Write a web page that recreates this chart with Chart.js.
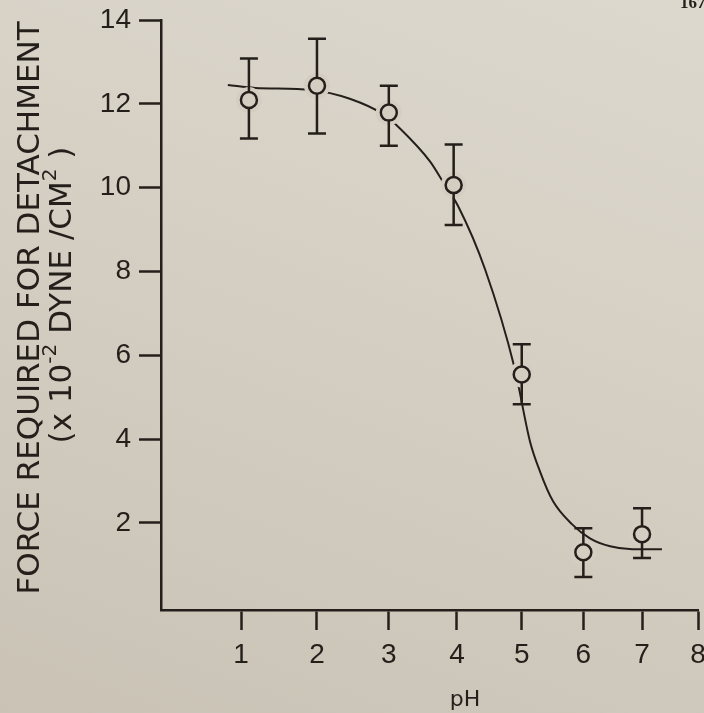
<!DOCTYPE html>
<html>
<head>
<meta charset="utf-8">
<script src="https://cdn.jsdelivr.net/npm/chart.js@4/dist/chart.umd.min.js"></script>
<style>
  html, body { margin: 0; padding: 0; }
  body {
    width: 704px; height: 713px; overflow: hidden;
    background: linear-gradient(200deg, #ddd8ce 0%, #d4cec2 50%, #c9c2b5 100%);
  }
  canvas { display: block; }
</style>
</head>
<body>
<canvas id="chart" width="704" height="713"></canvas>
<script>
// pH vs detachment force - scanned figure
const phTicks = [1, 2, 3, 4, 5, 6, 7, 8];
const forceTicks = [2, 4, 6, 8, 10, 12, 14];

// measured points with error bars
const pointPh = [1.1, 2, 3, 3.95, 5, 6, 7];
const pointForce = [12.09, 12.43, 11.79, 10.06, 5.54, 1.30, 1.73];
const errTop = [13.08, 13.55, 12.43, 11.03, 6.26, 1.87, 2.35];
const errBottom = [11.17, 11.29, 11.0, 9.11, 4.83, 0.71, 1.16];

// hand drawn fitted curve
const curvePh = [0.83, 1.18, 1.92, 2.45, 2.93, 3.16, 3.6, 3.79, 4.02, 4.43, 4.89, 5.13, 5.29, 5.5, 5.81, 6.11, 6.45, 6.83, 7.35];
const curveForce = [12.45, 12.38, 12.33, 12.12, 11.74, 11.41, 10.62, 10.14, 9.55, 8.04, 5.68, 3.95, 3.23, 2.52, 1.97, 1.63, 1.44, 1.37, 1.37];

// second title line as [text, superscript?] pieces
const yTitle = 'FORCE REQUIRED FOR DETACHMENT';
const yUnits = [['(x 10', false], ['-2', true], [' DYNE /CM', false], ['2', true], [' )', false]];
const xTitle = 'pH';
const pageNo = '167';

const ink = '#241f1b';
const paper = '#d4cec2';

// the photo is taken at a slant, so the pH axis gets squeezed to the right
const photoSkew = 0.228;
class PerspScale extends Chart.LinearScale {
    getPixelForValue(value) {
        if (value === null || value === undefined) return NaN;
        const t = (value - this.min) / (this.max - this.min);
        return this.getPixelForDecimal(t * (1 + photoSkew) / (1 + photoSkew * t));
    }
    getValueForPixel(pixel) {
        const d = this.getDecimalForPixel(pixel);
        const t = d / (1 + photoSkew - photoSkew * d);
        return this.min + t * (this.max - this.min);
    }
}
PerspScale.id = 'persp';
Chart.register(PerspScale);

const toXY = (xs, ys) => xs.map((x, i) => ({ x: x, y: ys[i] }));

// error bars go between the halo and the open circles
const errorBars = {
    id: 'errorBars',
    afterDatasetDraw(chart, args) {
        if (args.index !== 1) return;
        const ctx = chart.ctx;
        const xs = chart.scales.x, ys = chart.scales.y;
        ctx.save();
        ctx.strokeStyle = ink;
        ctx.lineWidth = 2.5;
        pointPh.forEach((ph, i) => {
            const px = xs.getPixelForValue(ph);
            const top = ys.getPixelForValue(errTop[i]);
            const bot = ys.getPixelForValue(errBottom[i]);
            ctx.beginPath();
            ctx.moveTo(px, top); ctx.lineTo(px, bot);
            ctx.moveTo(px - 9, top); ctx.lineTo(px + 9, top);
            ctx.moveTo(px - 9, bot); ctx.lineTo(px + 9, bot);
            ctx.stroke();
        });
        ctx.restore();
    }
};

// axis titles and page number
const pageText = {
    id: 'pageText',
    afterDraw(chart) {
        const ctx = chart.ctx;
        const bigFont = '31px "DejaVu Sans"';
        const supFont = '20px "DejaVu Sans"';
        ctx.save();
        ctx.fillStyle = ink;
        ctx.textBaseline = 'middle';

        ctx.font = bigFont;
        ctx.textAlign = 'center';
        ctx.save();
        ctx.translate(31, 308);
        ctx.rotate(-Math.PI / 2);
        ctx.fillText(yTitle, 0, 0);
        ctx.restore();

        // units line, superscripts drawn smaller and raised
        let total = 0;
        yUnits.forEach(([s, sup]) => {
            ctx.font = sup ? supFont : bigFont;
            total += ctx.measureText(s).width;
        });
        ctx.save();
        ctx.translate(63, 295);
        ctx.rotate(-Math.PI / 2);
        ctx.textAlign = 'left';
        let x = -total / 2;
        yUnits.forEach(([s, sup]) => {
            ctx.font = sup ? supFont : bigFont;
            ctx.fillText(s, x, sup ? -12 : 0);
            x += ctx.measureText(s).width;
        });
        ctx.restore();

        ctx.textAlign = 'center';
        ctx.font = '22px "DejaVu Sans"';
        ctx.fillText(xTitle, 465, 700);
        ctx.font = 'bold 17px "Liberation Serif"';
        ctx.textAlign = 'left';
        ctx.textBaseline = 'alphabetic';
        ctx.fillText(pageNo, 680, 8);
        ctx.restore();
    }
};

const tickFont = { family: '"Liberation Sans Narrow", "Liberation Sans", sans-serif', size: 28 };

new Chart(document.getElementById('chart'), {
    type: 'line',
    data: {
        datasets: [{
            label: 'curve',
            data: toXY(curvePh, curveForce),
            borderColor: ink,
            borderWidth: 2,
            pointRadius: 0,
            cubicInterpolationMode: 'monotone',
            fill: false,
            order: 3
        }, {
            label: 'halo',
            data: toXY(pointPh, pointForce),
            showLine: false,
            pointRadius: 13,
            pointBorderWidth: 0,
            pointBackgroundColor: paper,
            pointBorderColor: paper,
            order: 2
        }, {
            label: 'measured',
            data: toXY(pointPh, pointForce),
            showLine: false,
            pointRadius: 8,
            pointBorderWidth: 2.5,
            pointBackgroundColor: paper,
            pointBorderColor: ink,
            order: 1
        }]
    },
    options: {
        responsive: false,
        animation: false,
        events: [],
        layout: { autoPadding: false, padding: { top: 20, right: 6, bottom: 0, left: 0 } },
        plugins: {
            legend: { display: false },
            tooltip: { enabled: false }
        },
        scales: {
            x: {
                type: 'persp',
                min: 0,
                max: 8,
                afterBuildTicks: scale => { scale.ticks = phTicks.map(v => ({ value: v })); },
                afterFit: scale => { scale.height = 103; scale.paddingLeft = 0; scale.paddingRight = 0; },
                border: { display: true, color: ink, width: 2.5 },
                grid: { drawOnChartArea: false, tickLength: 20, tickWidth: 2.5, tickColor: ink },
                ticks: { color: ink, font: tickFont, padding: 8, maxRotation: 0, autoSkip: false }
            },
            y: {
                type: 'linear',
                min: -0.08,
                max: 14,
                afterBuildTicks: scale => { scale.ticks = forceTicks.map(v => ({ value: v })); },
                afterFit: scale => { scale.width = 161; scale.paddingTop = 0; scale.paddingBottom = 0; },
                border: { display: true, color: ink, width: 2.5 },
                grid: { drawOnChartArea: false, tickLength: 22, tickWidth: 2.5, tickColor: ink },
                ticks: { color: ink, font: tickFont, padding: 8, autoSkip: false }
            }
        }
    },
    plugins: [errorBars, pageText]
});
</script>
</body>
</html>
